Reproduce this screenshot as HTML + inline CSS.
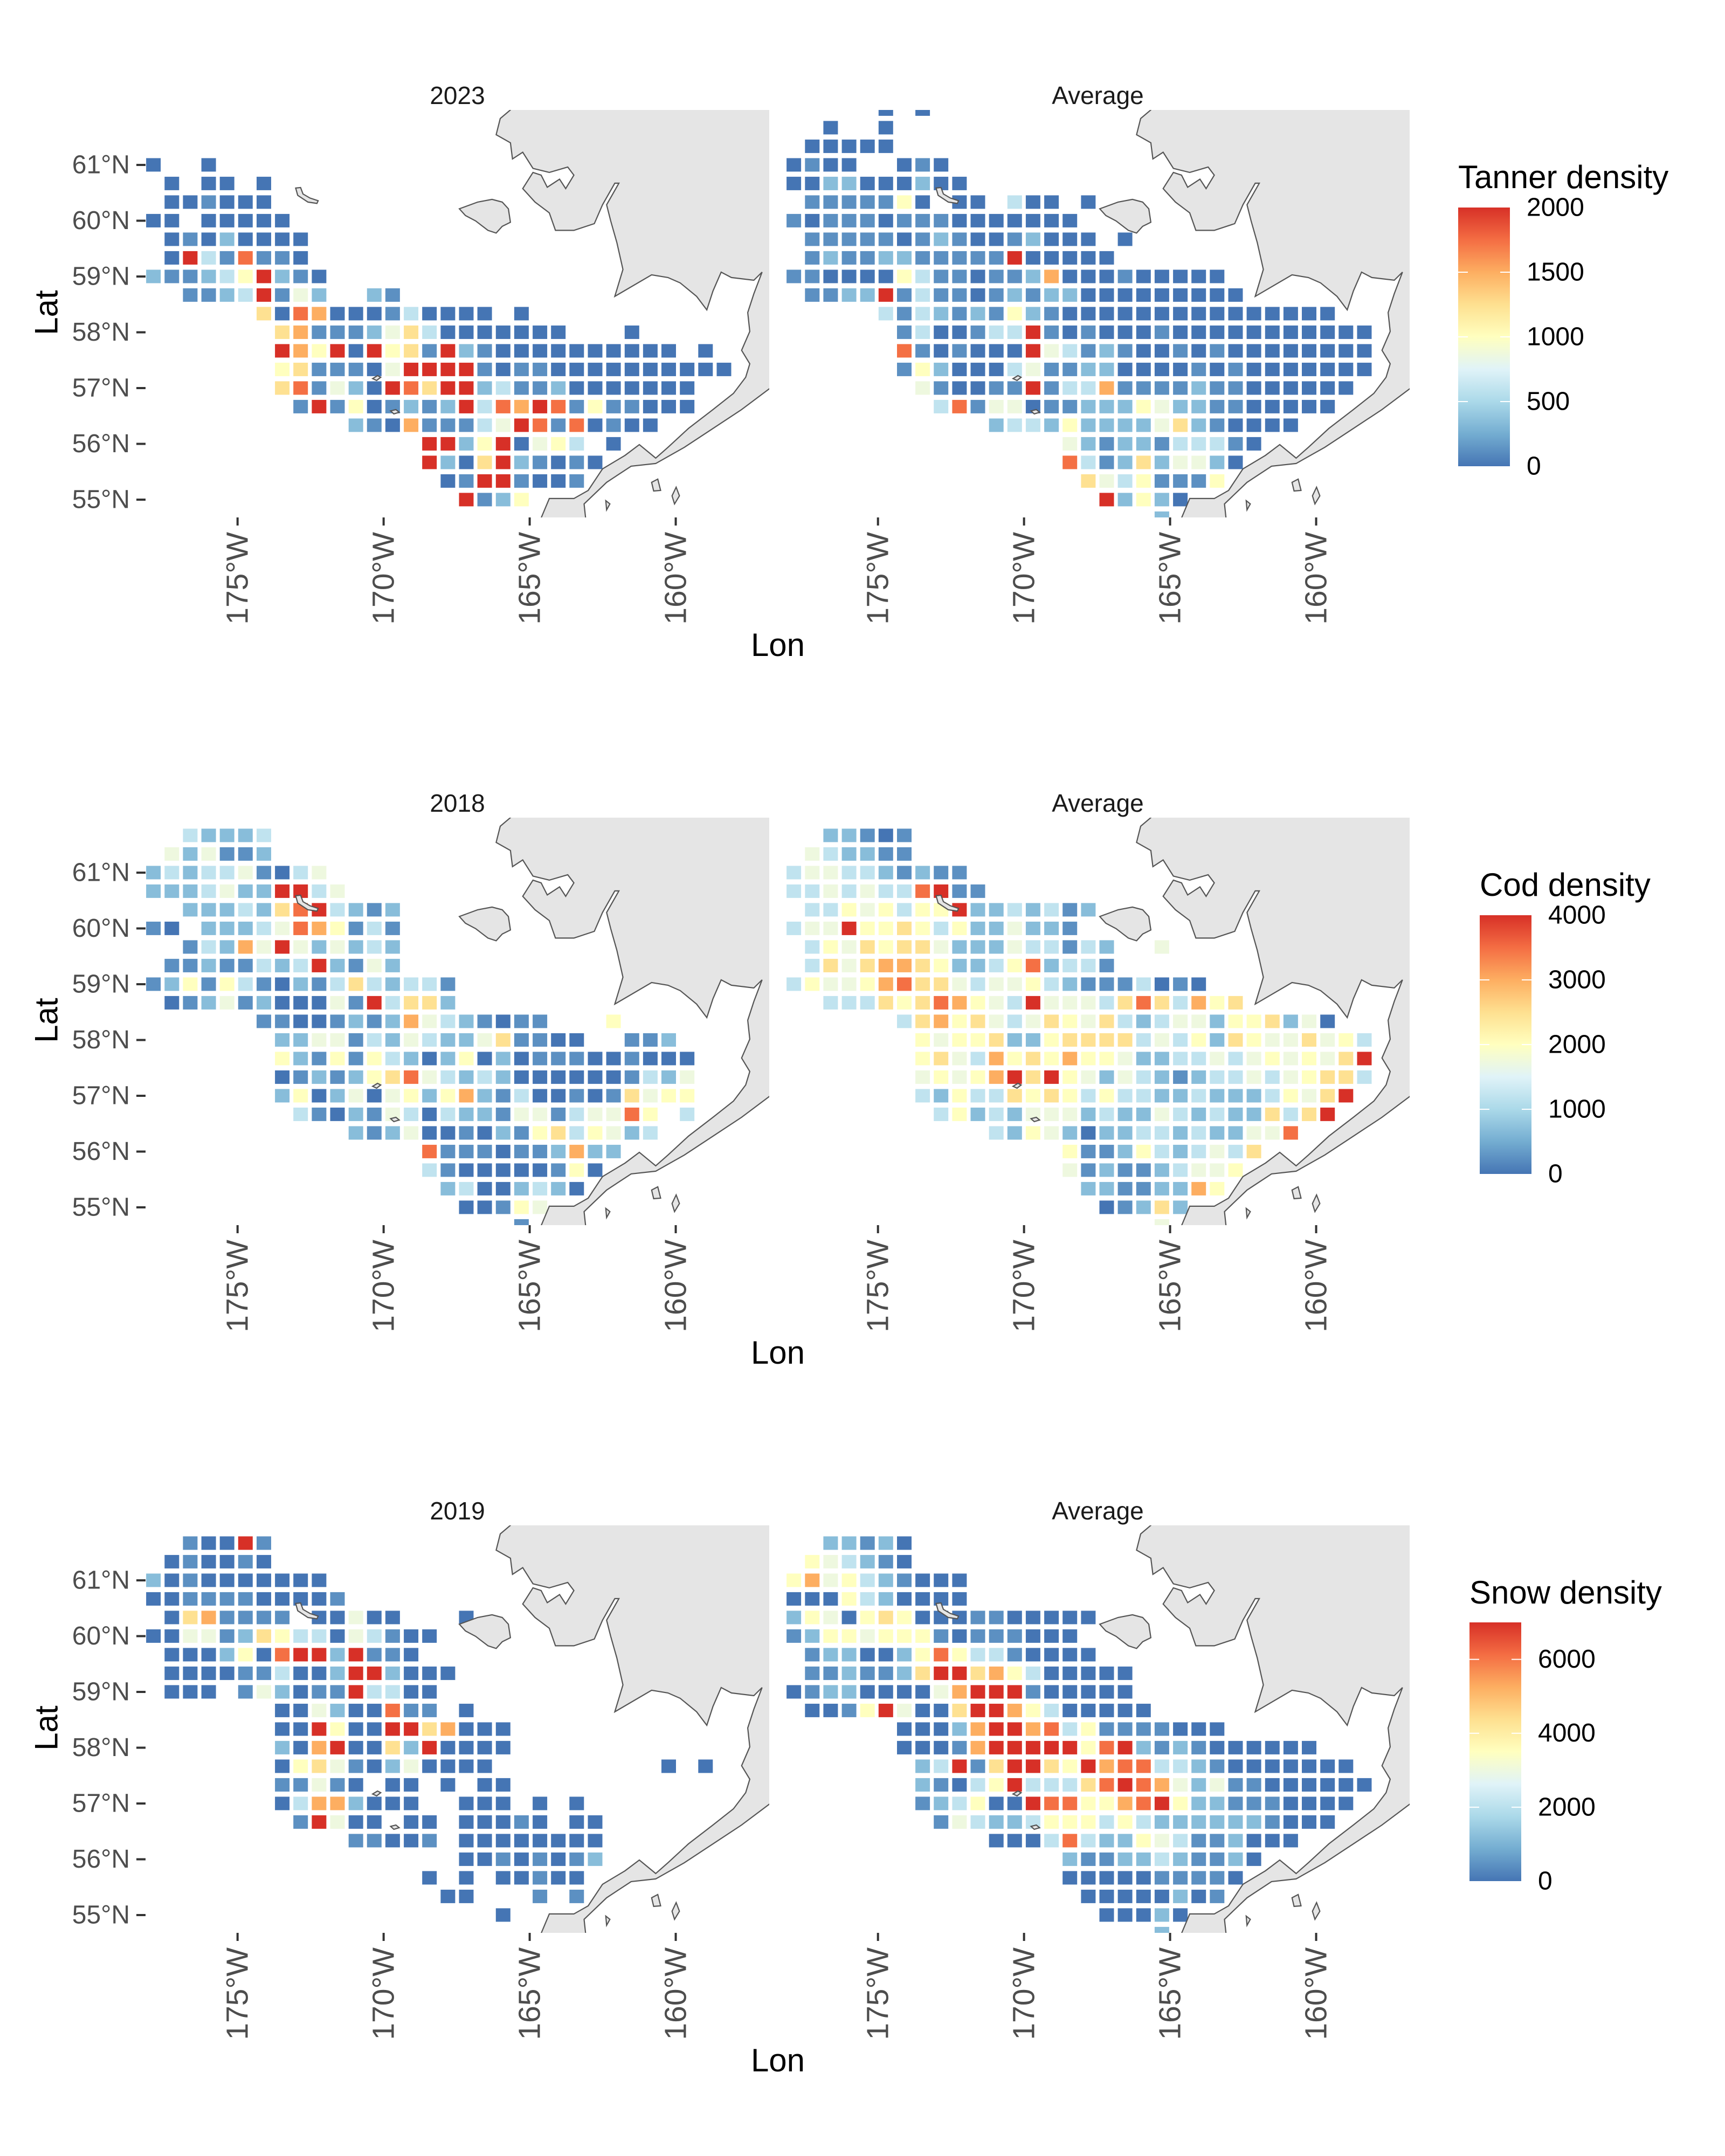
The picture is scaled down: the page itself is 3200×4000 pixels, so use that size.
<!DOCTYPE html>
<html><head><meta charset="utf-8">
<style>html,body{margin:0;padding:0;background:#fff}svg{display:block}text{font-family:"Liberation Sans",Arial,sans-serif}</style>
</head><body>
<svg id="fig" xmlns="http://www.w3.org/2000/svg" width="3200" height="4000" viewBox="0 0 3200 4000"></svg>
<script>
// Each row string: row r is latitude 62 - r/3; char index c is grid column (lon = -178.51 + c*0.630).
// '.' = no station; digit = density class (0..9), decoded through the level value arrays below.
const tanner2023Rows = ["","","",".0..0","1.0.00.0","..001000",".00.00000","..01020000","..09318110",".2112359210","...11239142..21",".......6087000130000.0","........6711124630000000...0","........9759095619210000000000.0","........5611104999910110000000000","........68142098699231120000000",".........1915012129387981511000","............21071113498180100","................992590453.0","................9206921010",".................01991001","..................9125"];
const tannerAvgRows = ["......0.0","...0..0","..00000",".0100..010",".0022000200","..1111150.00.300.0",".1011101110000000","..1111101210012000.0","..12112211111900000",".110000531101127000100000","..112291311012122000000000","......3132121521000000000000000",".......13001339101000100000000000",".......81010009431210010100000000",".......15200034112200001010000000","........410011913371111211000000",".........3814401122254221100000","............23325222246210000","................42122133310","................8312624420",".................64351115","..................92520",".....................2"];
const cod2018Rows = ["","...32223","..424112",".2323341034",".22234229934","...222326893212",".10.22234875131","...132749424232","..1121132392142",".12515310213632331","..0124120004193662",".......1100121274321011...5","........22441324322461100..112","........52151532025020111001000","........01212568432320000001324","........25024045257213001016455",".........31021430322144134485.3","............21240010215635423","................81110112722","................3100000150",".................23002320","..................00154",".....................1"];
const codAvgRows = ["","...22101","..432211",".3443321211",".33434338911","..3354535592232312",".3449556535224221","..35465664222433132..4","..36467765223582331",".35445786643445321113010","...33365687543944436863756",".......367564346546323442556240","........5455622566663435265446453","........5643756575542233434545469","........4545796954243212334345663","........325336565353322322235469",".........3523244423224323226369","............32542022332322448","................51125323436","................4121123445",".................22112275","..................01262",".....................4"];
const snow2019Rows = ["","...10091","..010010",".2010000000",".00111100001","..0671111.00400...0",".0044126533043100","..00025089929110","..0000113002992000","..000.14201193300","........004200811.0","........0095009967000","........2079006290000","........056410240000.........0.0","........11410.00.0.00","........03772000..000.0.0",".........19400.00.00010.00","............11001.00000000","..................00101012","................0.0.00100",".................00...1.1","....................0"];
const snowAvgRows = ["","...22120","..543210",".5745321000",".0005320000",".25405650001100000",".1255455510111000","..1220025853310000","..112112699675300000",".0122000047999100000","..0015940069975300000",".......000279978351111000",".......00017999995892121000000","........239169965978833210000000","........2103593336898742411000000","........123500988557895221110000",".........1432235553532222221000","............00038322543112000","................21122321120","................0000011110",".................00000201","..................00020",".....................2"];

const tannerLevelValues = [0,120,340,600,860,1000,1240,1500,1740,2000];
const codLevelValues = [0,240,680,1200,1720,2000,2480,3000,3480,4000];
const snowLevelValues = [0,420,1190,2100,3010,3500,4340,5250,6090,7000];

const tannerTicks = [0,500,1000,1500,2000];
const codTicks = [0,1000,2000,3000,4000];
const snowTicks = [0,2000,4000,6000];
const latTicks = [55,56,57,58,59,60,61];
const lonTicks = [-175,-170,-165,-160];
const latTickLabels = ["55°N","56°N","57°N","58°N","59°N","60°N","61°N"];
const lonTickLabels = ["175°W","170°W","165°W","160°W"];

const NS = "http://www.w3.org/2000/svg";
const svg = document.getElementById("fig");
function mk(tag, attrs, parent) {
  const e = document.createElementNS(NS, tag);
  for (const k in attrs) e.setAttribute(k, attrs[k]);
  (parent || svg).appendChild(e);
  return e;
}
const STOPS = [[69,117,180],[116,173,209],[171,217,233],[224,243,248],[255,255,191],[254,224,144],[253,174,97],[244,109,67],[215,48,39]];
function colorOf(f) {
  f = Math.max(0, Math.min(1, f)) * 8;
  const i = Math.min(7, Math.floor(f)), t = f - i;
  const a = STOPS[i], b = STOPS[i + 1];
  return "rgb(" + a.map((v, k) => Math.round(v + (b[k] - v) * t)).join(",") + ")";
}

const LON_MIN = -178.15, LAT_MAX = 61.985, PX_LON = 54.19, PX_LAT = 103.5;
const PW = 1157, PH = 756;
function xScale(p, lon) { return p.x0 + (lon - LON_MIN) * PX_LON; }
function yScale(p, lat) { return p.y0 + (LAT_MAX - lat) * PX_LAT; }

function zl(pts) { return pts.map(q => [-175 + (q[0] - 238) / 71.4, 61 - (q[1] - 212) / 207]); }
const landShapes = [
  zl([[905,-20],[905,8],[880,40],[870,100],[905,130],[910,190],[935,165],[960,225],[1000,240],[1045,220],[1060,250],[1040,300],[1025,265],[995,295],[980,250],[960,240],[935,300],[965,350],[1000,390],[1015,455],[1060,455],[1110,430],[1130,360],[1160,280],[1170,280],[1140,360],[1150,420],[1165,500],[1180,600],[1160,700],[1250,620],[1290,630],[1320,650],[1360,700],[1385,750],[1400,680],[1420,610],[1445,630],[1500,640],[1520,610],[1500,690],[1485,760],[1490,830],[1470,900],[1490,950],[1480,1000],[1450,1060],[1400,1120],[1340,1190],[1290,1260],[1260,1300],[1220,1250],[1185,1290],[1130,1340],[1095,1420],[1060,1450],[1000,1450],[975,1540],[1090,1540],[1085,1470],[1140,1390],[1200,1330],[1260,1320],[1330,1260],[1400,1190],[1470,1120],[1540,1040],[1600,1000],[1600,-20]]),
  zl([[780,375],[825,350],[860,340],[885,350],[900,375],[905,425],[885,440],[870,465],[850,455],[820,420],[795,400]]),
  zl([[380,298],[392,296],[398,320],[415,335],[435,345],[432,355],[410,350],[385,325]]),
  zl([[568,1005],[580,994],[588,1000],[578,1012]]),
  zl([[612,1125],[625,1120],[633,1130],[620,1136]]),
  zl([[1250,1390],[1265,1378],[1272,1420],[1255,1422]]),
  zl([[1300,1440],[1310,1408],[1318,1440],[1306,1470]]),
  zl([[1138,1458],[1148,1470],[1140,1492]])
];

const panels = [
  {rows: tanner2023Rows, levels: tannerLevelValues, max: 2000, x0: 270, y0: 204, strip: "2023", key: "tanner-2023"},
  {rows: tannerAvgRows, levels: tannerLevelValues, max: 2000, x0: 1458, y0: 204, strip: "Average", key: "tanner-average"},
  {rows: cod2018Rows, levels: codLevelValues, max: 4000, x0: 270, y0: 1517, strip: "2018", key: "cod-2018"},
  {rows: codAvgRows, levels: codLevelValues, max: 4000, x0: 1458, y0: 1517, strip: "Average", key: "cod-average"},
  {rows: snow2019Rows, levels: snowLevelValues, max: 7000, x0: 270, y0: 2830, strip: "2019", key: "snow-2019"},
  {rows: snowAvgRows, levels: snowLevelValues, max: 7000, x0: 1458, y0: 2830, strip: "Average", key: "snow-average"}
];

const defs = mk("defs", {});



panels.forEach((p, pi) => {
  const cp = mk("clipPath", {id: "clip" + pi}, defs);
  mk("rect", {x: p.x0, y: p.y0, width: PW, height: PH}, cp);
  const g = mk("g", {"clip-path": "url(#clip" + pi + ")"});
  
  
  p.rows.forEach((row, r) => {
    const lat = 62 - r / 3;
    for (let c = 0; c < row.length; c++) {
      const ch = row[c];
      if (ch === "." || ch === " ") continue;
      const value = p.levels[+ch];
      const lon = -178.51 + c * 0.630;
      const cx = xScale(p, lon), cy = yScale(p, lat);
      const cell = mk("rect", {x: (cx - 13.5).toFixed(1), y: (cy - 12.5).toFixed(1), width: 27, height: 25, fill: colorOf(value / p.max)}, g);
      
      
    }
  });
  landShapes.forEach((shape, si) => {
    const d = shape.map((q, i) => (i ? "L" : "M") + xScale(p, q[0]).toFixed(1) + " " + yScale(p, q[1]).toFixed(1)).join(" ") + " Z";
    const land = mk("path", {d: d, fill: "#e5e5e5", stroke: "#555", "stroke-width": 2.2}, g);
    
    
  });
  const st = mk("text", {x: p.x0 + PW / 2, y: p.y0 - 11, "text-anchor": "middle", "font-size": 46, fill: "#1a1a1a"});
  st.textContent = p.strip;
  
  
  lonTicks.forEach((lon, i) => {
    const x = xScale(p, lon);
    const tk = mk("line", {x1: x, x2: x, y1: p.y0 + PH, y2: p.y0 + PH + 15, stroke: "#333", "stroke-width": 4});
    
    
    const yy = p.y0 + PH + 27;
    const tl = mk("text", {x: x, y: yy, transform: "rotate(-90 " + x + " " + yy + ")", "text-anchor": "end", "dominant-baseline": "central", "font-size": 57, fill: "#4d4d4d"});
    tl.textContent = lonTickLabels[i];
    
    
  });
  if (p.x0 < 1000) {
    latTicks.forEach((lat, i) => {
      const y = yScale(p, lat);
      const tk = mk("line", {x1: 253, x2: 270, y1: y, y2: y, stroke: "#333", "stroke-width": 4});
      
      
      const tl = mk("text", {x: 241, y: y, "text-anchor": "end", "dominant-baseline": "central", "font-size": 48, fill: "#4d4d4d"});
      tl.textContent = latTickLabels[i];
      
      
    });
  }
});

[0, 1313, 2626].forEach(off => {
  const lt = mk("text", {x: 86, y: 580 + off, transform: "rotate(-90 86 " + (580 + off) + ")", "text-anchor": "middle", "dominant-baseline": "central", "font-size": 60, fill: "#000"});
  lt.textContent = "Lat";
  
  
  const ln = mk("text", {x: 1443, y: 1217 + off, "text-anchor": "middle", "font-size": 60, fill: "#000"});
  ln.textContent = "Lon";
  
  
});

const grad = mk("linearGradient", {id: "rdylbu", x1: 0, y1: 1, x2: 0, y2: 0}, defs);
STOPS.forEach((s, i) => mk("stop", {offset: (i / 8).toFixed(3), "stop-color": "rgb(" + s.join(",") + ")"}, grad));
const legends = [
  {title: "Tanner density", ticks: tannerTicks, max: 2000, x: 2705, top: 385, tb: 349, key: "tanner"},
  {title: "Cod density", ticks: codTicks, max: 4000, x: 2745, top: 1698, tb: 1662, key: "cod"},
  {title: "Snow density", ticks: snowTicks, max: 7000, x: 2726, top: 3010, tb: 2975, key: "snow"}
];
legends.forEach(L => {
  const BH = 480, BW = 96;
  const t = mk("text", {x: L.x, y: L.tb, "font-size": 60, fill: "#000"});
  t.textContent = L.title;
  
  
  const bar = mk("rect", {x: L.x, y: L.top, width: BW, height: BH, fill: "url(#rdylbu)"});
  
  
  L.ticks.forEach(v => {
    const y = L.top + BH - v / L.max * BH;
    if (v > 0 && v < L.max) {
      const a = mk("line", {x1: L.x, x2: L.x + 18, y1: y, y2: y, stroke: "#fff", "stroke-width": 2});
      
      
      const b = mk("line", {x1: L.x + BW - 18, x2: L.x + BW, y1: y, y2: y, stroke: "#fff", "stroke-width": 2});
      
      
    }
    const lab = mk("text", {x: L.x + BW + 31, y: y, "dominant-baseline": "central", "font-size": 48, fill: "#000"});
    lab.textContent = String(v);
    
    
  });
});
</script>
</body></html>
